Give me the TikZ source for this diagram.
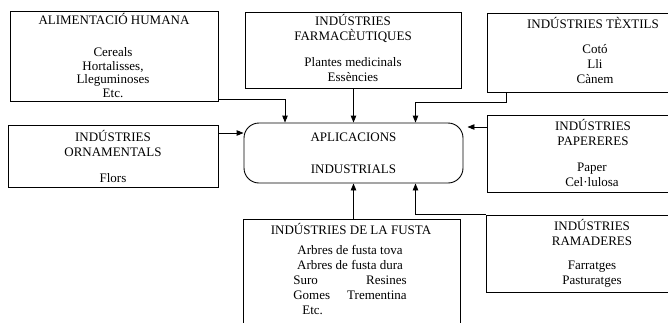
\documentclass[tikz,border=0pt]{standalone}
\usepackage{fontspec}
\setmainfont{Liberation Serif}
\usepackage{tikz}
\usetikzlibrary{positioning,arrows.meta}

\begin{document}
\begin{tikzpicture}[x=1pt,y=-1pt,
        font=\fontsize{13}{15}\selectfont,
        box/.style={draw,line width=0.9pt,minimum width=#1,inner sep=0pt},
        txt/.style={align=center,inner sep=0pt},
        arr/.style={draw,line width=0.9pt,-{Triangle[length=7pt,width=5.5pt]}}]
        \useasboundingbox (0,0) rectangle (668,322);
        \clip (0,0) rectangle (668,322);

        % boxes
        \node[box=208pt,minimum height=90pt] (alim) at (114,56) {};
        \node[box=216pt,minimum height=76pt] (farm) at (353,50) {};
        \node[box=213pt,minimum height=79pt] (tex) at (593.5,52.5) {};
        \node[box=210pt,minimum height=62pt] (orn) at (113,156) {};
        \node[box=219pt,minimum height=60pt,rounded corners=15pt,txt] (cent) at (353.5,153)
            {APLICACIONS\\[17pt]INDUSTRIALS};
        \node[box=213pt,minimum height=77pt] (pap) at (593.5,153.5) {};
        \node[box=217pt,minimum height=116pt] (fusta) at (351.5,277) {};
        \node[box=214pt,minimum height=77pt] (ram) at (593,253.5) {};

        % texts
        \node[txt] (alim-t) at (114,19) {ALIMENTACIÓ HUMANA};
        \node[txt,font=\fontsize{13}{13.8}\selectfont] (alim-b) at (113,72.5) {Cereals\\Hortalisses,\\Lleguminoses\\Etc.};
        \node[txt] (farm-t) at (353,28) {INDÚSTRIES\\FARMACÈUTIQUES};
        \node[txt] (farm-b) at (353,70) {Plantes medicinals\\Essències};
        \node[txt] (tex-t) at (593,23) {INDÚSTRIES TÈXTILS};
        \node[txt] (tex-b) at (595,64) {Cotó\\Lli\\Cànem};
        \node[txt] (orn-t) at (113,143.5) {INDÚSTRIES\\ORNAMENTALS};
        \node[txt] (orn-b) at (113,178) {Flors};
        \node[txt] (pap-t) at (593,132.5) {INDÚSTRIES\\PAPERERES};
        \node[txt] (pap-b) at (592,175) {Paper\\Cel·lulosa};
        \node[txt] (fusta-t) at (351,229) {INDÚSTRIES DE LA FUSTA};
        \node[txt,anchor=north] (fusta-b) at (350,244) {\begin{tabular}{@{}l@{\hspace{17pt}}r@{}}
            \multicolumn{2}{@{}c@{}}{Arbres de fusta tova}\\
            \multicolumn{2}{@{}c@{}}{Arbres de fusta dura}\\
            Suro & Resines\\
            Gomes & Trementina\\
            \hspace*{9pt}Etc. & \end{tabular}};
        \node[txt] (ram-t) at (592,232.5) {INDÚSTRIES\\RAMADERES};
        \node[txt] (ram-b) at (592,274.5) {Farratges\\Pasturatges};

        % arrows
        \draw[arr] (alim.east |- 0,99) -| ([xshift=-68.5pt]cent.north);
        \draw[arr] (farm.south -| cent.north) -- (cent.north);
        \draw[arr] ([xshift=20pt]tex.south west) -- ++(0,10) -| ([xshift=62pt]cent.north);
        \draw[arr] (orn.east |- 0,133) -- (cent.west |- 0,133);
        \draw[arr,shorten >=4pt] (pap.west |- 0,127) -- (cent.east |- 0,127);
        \draw[arr] (fusta.north -| cent.south) -- (cent.south);
        \draw[arr] (ram.north west) -| ([xshift=62pt]cent.south);
    \end{tikzpicture}
\end{document}
